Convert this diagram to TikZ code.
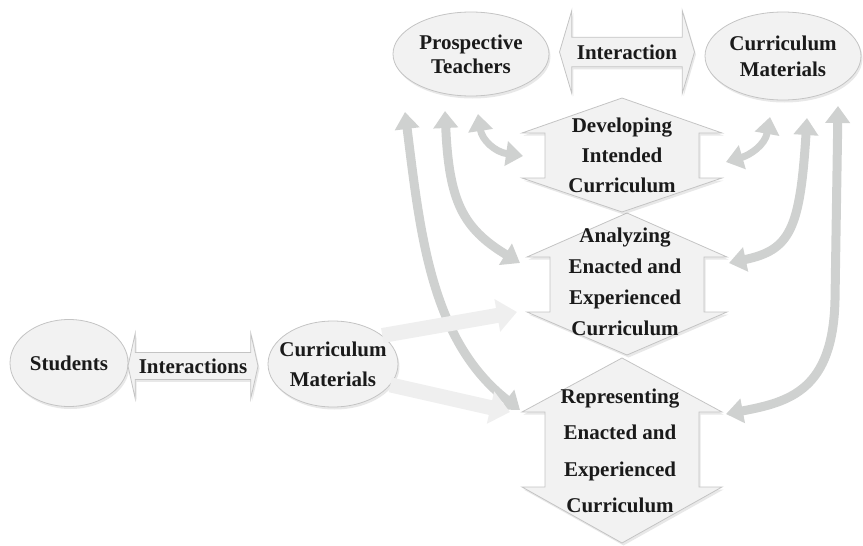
\documentclass[tikz,border=0pt]{standalone}
\usepackage{fontspec}
\setmainfont{Liberation Serif}
\usepackage{xcolor}
\usepackage{tikz}
\usetikzlibrary{shapes,arrows.meta,shadows,positioning}

\definecolor{bubblefill}{HTML}{F2F2F2}
\definecolor{bubbleline}{HTML}{C4C4C4}
\definecolor{loopgray}{HTML}{CFD1D0}
\definecolor{feedgray}{HTML}{EFEFEF}
\definecolor{inkblack}{HTML}{1A1A1A}

\tikzset{
  labelfont/.style={font=\bfseries\fontsize{21}{#1}\selectfont, text=inkblack},
  labelfont/.default=25,
  softshadow/.style={drop shadow={opacity=0.18, shadow xshift=1.5pt, shadow yshift=-2.5pt}},
  bubble/.style={ellipse, draw=bubbleline, fill=bubblefill, line width=0.8pt,
    inner sep=0pt, align=center, softshadow},
  twoway/.style={double arrow, draw=bubbleline, fill=bubblefill, line width=0.8pt,
    inner sep=0pt, softshadow},
  stagebox/.style={draw=bubbleline, fill=bubblefill, line width=0.8pt, softshadow},
  looparrow/.style={draw=loopgray, line width=9pt,
    {Triangle[width=24pt,length=17pt]}-{Triangle[width=24pt,length=17pt]}},
  feedarrow/.style={draw=feedgray, line width=15pt, -{Triangle[width=32pt,length=20pt]}}
}

\begin{document}
\begin{tikzpicture}[x=1pt, y=-1pt]
    \useasboundingbox (0,0) rectangle (863,546);

    % Stages (drawn bottom up so the upper tips lie on top)
    \foreach \cx/\ya/\yb/\yc/\yd in {622/358/412/487/543, 627/213/257/312/355, 622/98/133/178/212}
        \draw[stagebox] (\cx,\ya) -- ({\cx+100},\yb) -- ({\cx+77},\yb) -- ({\cx+77},\yc)
            -- ({\cx+100},\yc) -- (\cx,\yd) -- ({\cx-100},\yc) -- ({\cx-77},\yc)
            -- ({\cx-77},\yb) -- ({\cx-100},\yb) -- cycle;

    \node[labelfont=30, align=center] (dev) at (622,155) {Developing\\Intended\\Curriculum};
    \node[labelfont=31, align=center] (ana) at (625,282) {Analyzing\\Enacted and\\Experienced\\Curriculum};
    \node[labelfont=36.5, align=center] (rep) at (620,451) {Representing\\Enacted and\\Experienced\\Curriculum};

    % Top row
    \node[bubble, labelfont=24, minimum width=156pt, minimum height=84pt] (teach) at (471,54) {Prospective\\Teachers};
    \node[twoway, labelfont, minimum height=135pt, minimum width=83pt,
        double arrow head extend=14pt, double arrow tip angle=147] (talk) at (627,52) {Interaction};
    \node[bubble, labelfont=26, minimum width=156pt, minimum height=88pt] (mat) at (783,56) {Curriculum\\Materials};

    % Bottom row
    \node[bubble, labelfont, minimum width=118pt, minimum height=87pt] (stud) at (69,363) {Students};
    \node[twoway, labelfont, minimum height=130pt, minimum width=65pt,
        double arrow head extend=11pt, double arrow tip angle=155] (chat) at (193,366) {Interactions};
    \node[bubble, labelfont=30, inner xsep=-8pt, minimum width=130pt, minimum height=86pt] (cmat) at (333,364) {Curriculum\\Materials};

    % Ends of the loops
    \coordinate (teach-a) at (405,112);
    \coordinate (teach-b) at (445,111);
    \coordinate (teach-c) at (478,114);
    \coordinate (mat-c) at (770,117);
    \coordinate (mat-b) at (807,118);
    \coordinate (mat-a) at (838,106);
    \coordinate (dev-w) at (523,156);
    \coordinate (dev-e) at (726,162);
    \coordinate (ana-w) at (520,263);
    \coordinate (ana-e) at (729,263);
    \coordinate (ana-in) at (517,312);
    \coordinate (rep-w) at (520,410);
    \coordinate (rep-e) at (726,414);
    \coordinate (rep-in) at (510,412);

    % Loops between the stages and the top row
    \draw[looparrow, line width=7pt] (teach-c) .. controls (482,140) and (495,152) .. (dev-w);
    \draw[looparrow] (teach-b) .. controls (449,200) and (462,228) .. (ana-w);
    \draw[looparrow] (teach-a) .. controls (420,230) and (430,340) .. (rep-w);
    \draw[looparrow, line width=7pt] (mat-c) .. controls (765,145) and (750,155) .. (dev-e);
    \draw[looparrow] (mat-b) .. controls (800,230) and (790,250) .. (ana-e);
    \draw[looparrow] (mat-a) -- (835,300) .. controls (833,390) and (790,402) .. (rep-e);

    % Materials feeding the lower stages
    \draw[feedarrow] (cmat.30) -- (ana-in);
    \draw[feedarrow] (cmat.-20) -- (rep-in);
\end{tikzpicture}
\end{document}
